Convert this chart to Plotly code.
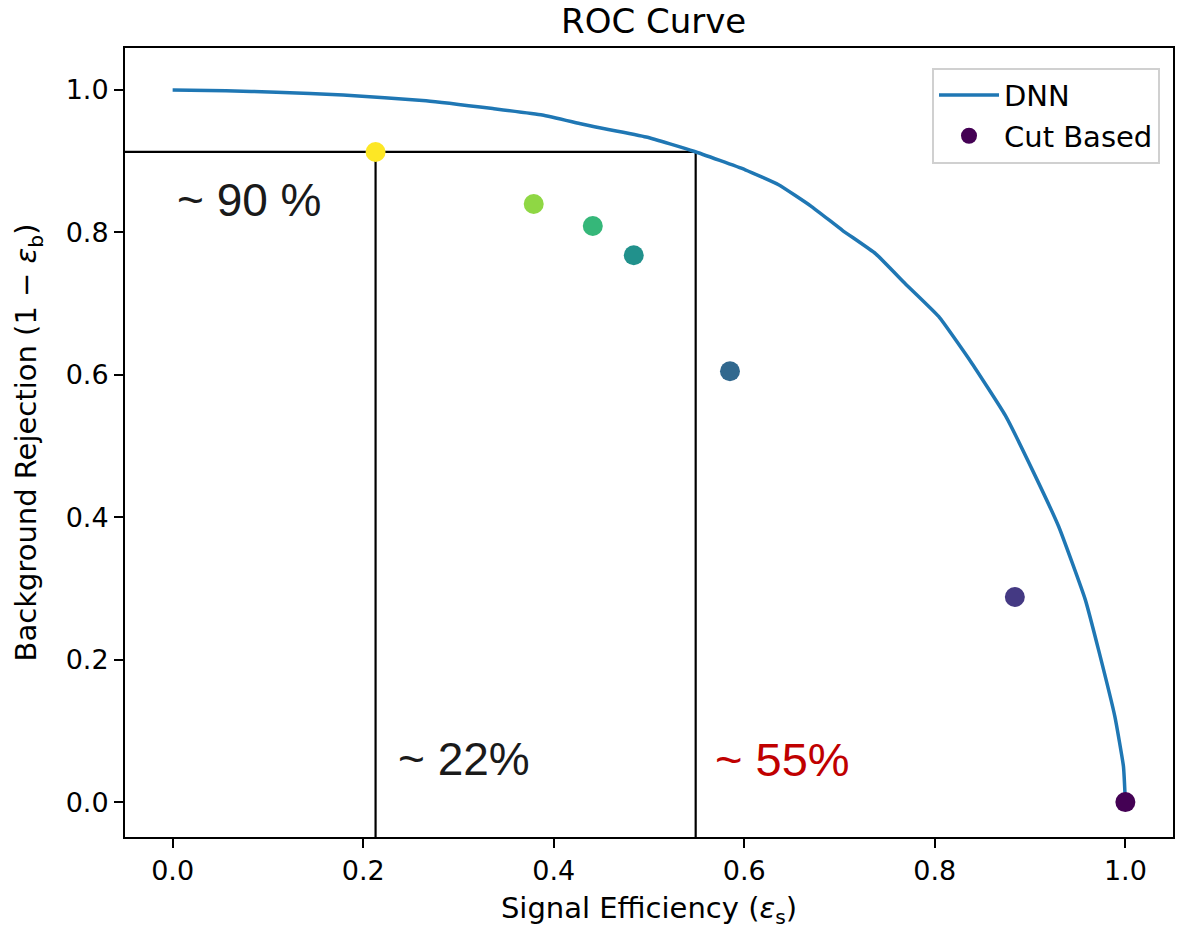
import plotly.graph_objects as go

# DNN ROC curve (signal efficiency, background rejection)
dnn_eff = [0.0, 0.056, 0.109, 0.179, 0.266, 0.336, 0.388, 0.427, 0.444, 0.497, 0.547, 0.601,
           0.636, 0.671, 0.703, 0.738, 0.769, 0.804, 0.839, 0.874, 0.904, 0.930, 0.958, 0.972,
           0.989, 0.998, 1.0]
dnn_rej = [1.0, 0.999, 0.997, 0.993, 0.985, 0.974, 0.965, 0.953, 0.948, 0.934, 0.914, 0.888,
           0.867, 0.836, 0.803, 0.770, 0.728, 0.682, 0.616, 0.543, 0.462, 0.387, 0.284, 0.213,
           0.120, 0.050, 0.0]

# Cut based working points
cut_eff = [1.0, 0.884, 0.585, 0.484, 0.441, 0.379, 0.213]
cut_rej = [0.0, 0.288, 0.605, 0.768, 0.809, 0.840, 0.913]
cut_colors = ["#440154", "#443983", "#31688e", "#21918c", "#35b779", "#8fd744", "#fde725"]

# Guide lines
h_line_x = [-0.05, 0.549]
h_line_y = [0.913, 0.913]
v1_x = [0.213, 0.213]
v1_y = [-0.05, 0.913]
v2_x = [0.549, 0.549]
v2_y = [-0.05, 0.913]

fig = go.Figure()
for xs, ys in [(h_line_x, h_line_y), (v1_x, v1_y), (v2_x, v2_y)]:
    fig.add_trace(go.Scatter(x=xs, y=ys, mode="lines", line=dict(color="black", width=2.2),
                             showlegend=False, hoverinfo="skip"))

fig.add_trace(go.Scatter(x=dnn_eff, y=dnn_rej, mode="lines", name="DNN",
                         line=dict(color="#1f77b4", width=3.5, shape="spline", smoothing=0.4)))
fig.add_trace(go.Scatter(x=cut_eff, y=cut_rej, mode="markers", name="Cut Based",
                         marker=dict(color=cut_colors, size=20)))

ann_font = "Liberation Sans"
fig.add_annotation(x=0.002, y=0.845, text="~ 90 %", showarrow=False, xanchor="left",
                   font=dict(family=ann_font, size=46, color="#1a1a1a"))
fig.add_annotation(x=0.234, y=0.06, text="~ 22%", showarrow=False, xanchor="left",
                   font=dict(family=ann_font, size=46, color="#1a1a1a"))
fig.add_annotation(x=0.567, y=0.06, text="~ 55%", showarrow=False, xanchor="left",
                   font=dict(family=ann_font, size=47, color="#c00000"))

axis_common = dict(showgrid=False, zeroline=False, showline=True, linecolor="black", linewidth=2,
                   mirror=True, ticks="outside", ticklen=9, tickwidth=2, tickcolor="black",
                   tickfont=dict(family="DejaVu Sans", size=27, color="black"))

fig.update_layout(
    width=1182, height=937,
    paper_bgcolor="white", plot_bgcolor="white",
    margin=dict(l=125, r=7, t=48, b=100),
    title=dict(text="ROC Curve", x=0.553, xanchor="center", y=0.977, yanchor="middle",
               font=dict(family="DejaVu Sans", size=34, color="black")),
    xaxis=dict(range=[-0.05, 1.05], tickvals=[0, 0.2, 0.4, 0.6, 0.8, 1.0],
               ticktext=["0.0", "0.2", "0.4", "0.6", "0.8", "1.0"],
               title=dict(text="Signal Efficiency (<i>ε</i><sub>s</sub>)", standoff=12,
                          font=dict(family="DejaVu Sans", size=29, color="black")),
               **axis_common),
    yaxis=dict(range=[-0.049, 1.059], tickvals=[0, 0.2, 0.4, 0.6, 0.8, 1.0],
               ticktext=["0.0", "0.2", "0.4", "0.6", "0.8", "1.0"],
               title=dict(text="Background Rejection (1 − <i>ε</i><sub>b</sub>)", standoff=20,
                          font=dict(family="DejaVu Sans", size=29, color="black")),
               **axis_common),
    legend=dict(x=0.9876, y=0.975, xanchor="right", yanchor="top", bgcolor="white",
                bordercolor="#d0d0d0", borderwidth=2,
                font=dict(family="DejaVu Sans", size=29, color="black"),
                itemwidth=60, tracegroupgap=6),
)

fig.write_html("out.html")
